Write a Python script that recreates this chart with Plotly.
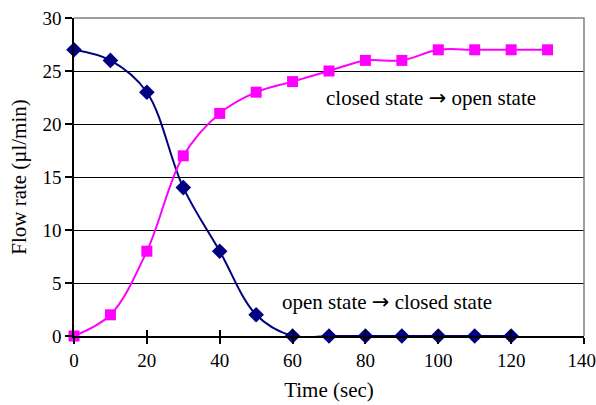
import plotly.graph_objects as go

time_open = [0, 10, 20, 30, 40, 50, 60, 70, 80, 90, 100, 110, 120, 130]
flow_open = [0, 2, 8, 17, 21, 23, 24, 25, 26, 26, 27, 27, 27, 27]
time_close = [0, 10, 20, 30, 40, 50, 60, 70, 80, 90, 100, 110, 120]
flow_close = [27, 26, 23, 14, 8, 2, 0, 0, 0, 0, 0, 0, 0]

x_ticks = [0, 20, 40, 60, 80, 100, 120, 140]
x_tick_labels = ["0", "20", "40", "60", "80", "100", "120", "140\u00a0"]
y_ticks = [0, 5, 10, 15, 20, 25, 30]

FONT = "Liberation Serif, serif"
ARROW = "<span style='font-family:DejaVu Sans'>\u2192</span>"

fig = go.Figure()
fig.add_trace(go.Scatter(
    x=time_close, y=flow_close, mode="lines+markers",
    line=dict(color="#000080", width=2, shape="spline", smoothing=1),
    marker=dict(symbol="diamond", size=12, color="#000080"),
    cliponaxis=False, showlegend=False))
fig.add_trace(go.Scatter(
    x=time_open, y=flow_open, mode="lines+markers",
    line=dict(color="#FF00FF", width=2, shape="spline", smoothing=1),
    marker=dict(symbol="square", size=11, color="#FF00FF"),
    cliponaxis=False, showlegend=False))

fig.add_annotation(x=98, y=22.5, text="closed state " + ARROW + " open state",
                   showarrow=False, font=dict(family=FONT, size=21, color="black"))
fig.add_annotation(x=85.8, y=3.2, text="open state " + ARROW + " closed state",
                   showarrow=False, font=dict(family=FONT, size=21, color="black"))

# gray plot frame (top and right)
fig.add_shape(type="path", xref="paper", yref="paper", path="M 0 1 L 1 1 L 1 0",
              line=dict(color="#808080", width=1.5), layer="above")

axis_common = dict(zeroline=False, showline=True, linecolor="black", linewidth=1.5,
                   tickcolor="black", tickwidth=1.5, automargin=False)

fig.update_layout(
    width=596, height=405,
    margin=dict(l=74, r=12, t=18, b=69),
    paper_bgcolor="white", plot_bgcolor="white",
    font=dict(family=FONT, size=19, color="black"),
    xaxis=dict(range=[0, 140], tickvals=x_ticks, ticktext=x_tick_labels, showgrid=False,
               ticks="outside", ticklen=6, ticklabeloverflow="allow",
               tickfont=dict(family=FONT, size=19),
               title=dict(text="Time (sec)", font=dict(family=FONT, size=21), standoff=13),
               **axis_common),
    xaxis2=dict(range=[0, 140], tickvals=x_ticks, showgrid=False, overlaying="x",
                side="bottom", ticks="inside", ticklen=6, showticklabels=False,
                **axis_common),
    yaxis=dict(range=[0, 30], tickvals=y_ticks, showgrid=True, gridcolor="black",
               gridwidth=1, ticks="outside", ticklen=7, ticklabeloverflow="allow",
               tickfont=dict(family=FONT, size=19),
               title=dict(text="Flow rate (\u00b5l/min)", font=dict(family=FONT, size=21), standoff=10),
               **axis_common),
)
# invisible trace to activate the crossing-tick axis
fig.add_trace(go.Scatter(x=time_open[:1], y=flow_open[:1], xaxis="x2", mode="markers",
                         marker=dict(opacity=0), hoverinfo="skip", showlegend=False))

fig.write_html("out.html", config={"displayModeBar": False},
               post_script="document.body.style.margin='0';document.body.style.overflow='hidden';")
